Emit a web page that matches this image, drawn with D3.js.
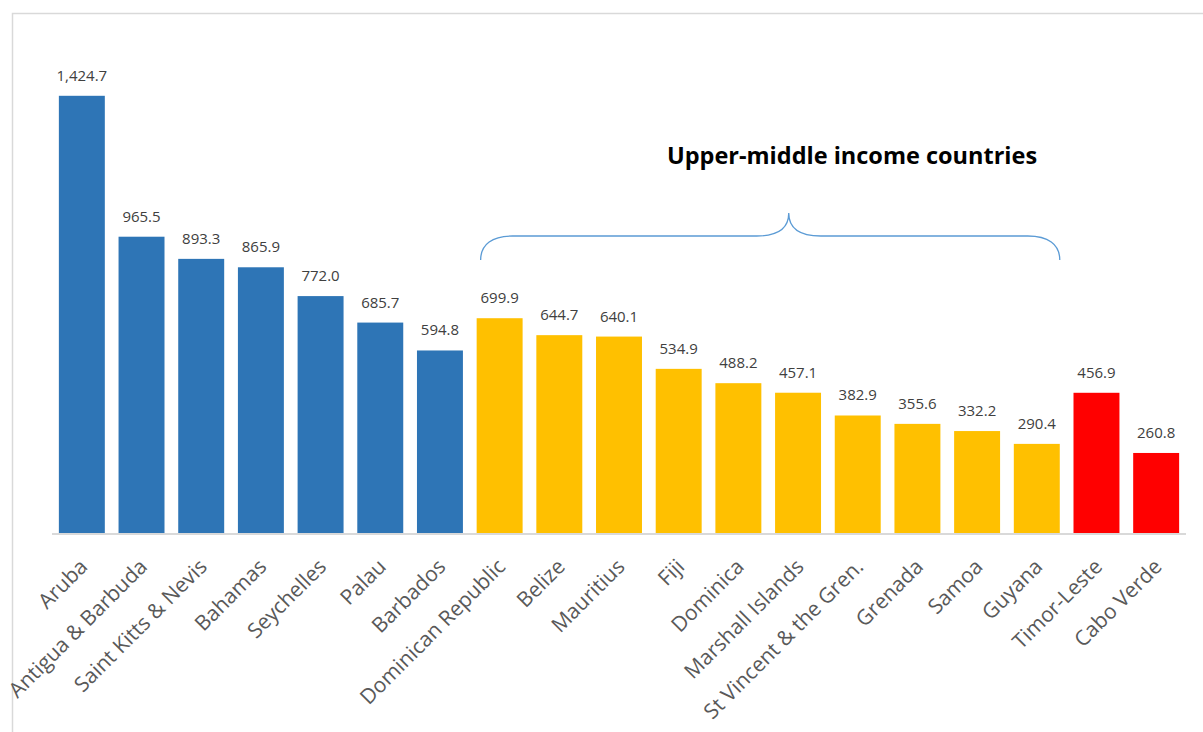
<!DOCTYPE html>
<html>
<head>
<meta charset="utf-8">
<script src="https://cdn.jsdelivr.net/npm/d3@7/dist/d3.min.js"></script>
<style>
  html, body { margin: 0; padding: 0; background: #fff; }
  svg { display: block; }
</style>
</head>
<body>
<svg id="chart" width="1203" height="732"></svg>
<script>
// Countries, in plotted order
const countries = [
  "Aruba", "Antigua & Barbuda", "Saint Kitts & Nevis", "Bahamas", "Seychelles",
  "Palau", "Barbados", "Dominican Republic", "Belize", "Mauritius", "Fiji",
  "Dominica", "Marshall Islands", "St Vincent & the Gren.", "Grenada", "Samoa",
  "Guyana", "Timor-Leste", "Cabo Verde"
];
// Value for each country
const values = [
  1424.7, 965.5, 893.3, 865.9, 772.0, 685.7, 594.8, 699.9, 644.7, 640.1, 534.9,
  488.2, 457.1, 382.9, 355.6, 332.2, 290.4, 456.9, 260.8
];
// Income group for each country
const groups = [
  "high", "high", "high", "high", "high", "high", "high",
  "upper", "upper", "upper", "upper", "upper", "upper", "upper", "upper", "upper", "upper",
  "lower", "lower"
];
const groupTitle = "Upper-middle income countries";

const data = countries.map((c, i) => ({ country: c, value: values[i], group: groups[i] }));

const svg = d3.select("#chart");
const W = 1203, H = 732;

// Outer chart frame
svg.append("rect")
  .attr("x", 12.5).attr("y", 13.5)
  .attr("width", W).attr("height", H)
  .attr("fill", "none")
  .attr("stroke", "#d9d9d9")
  .attr("stroke-width", 1.5);

const x = d3.scaleBand()
  .domain(countries)
  .range([52, 1186])
  .paddingInner(0.23)
  .paddingOuter(0.115);

const y = d3.scaleLinear()
  .domain([0, 1600])
  .range([533, 42]);

const color = d3.scaleOrdinal()
  .domain(["high", "upper", "lower"])
  .range(["#2e75b6", "#ffc000", "#ff0000"]);

// Bars
svg.append("g")
  .selectAll("rect")
  .data(data)
  .join("rect")
  .attr("x", d => x(d.country))
  .attr("y", d => y(d.value))
  .attr("width", x.bandwidth())
  .attr("height", d => y(0) - y(d.value))
  .attr("fill", d => color(d.group));

// Value labels
const fmt = d3.format(",.1f");
svg.append("g")
  .selectAll("text")
  .data(data)
  .join("text")
  .attr("x", d => x(d.country) + x.bandwidth() / 2)
  .attr("y", d => y(d.value) - 15)
  .attr("text-anchor", "middle")
  .attr("font-family", "'Open Sans', sans-serif")
  .attr("font-size", 15)
  .attr("fill", "#404040")
  .text(d => fmt(d.value));

// Category axis
const xAxis = svg.append("g")
  .attr("transform", `translate(0,${y(0)})`)
  .call(d3.axisBottom(x).tickSize(0).tickSizeOuter(0));
xAxis.select(".domain")
  .attr("stroke", "#d9d9d9")
  .attr("stroke-width", 2)
  .attr("d", "M52,1H1186");
xAxis.selectAll(".tick text")
  .attr("font-family", "'Open Sans', sans-serif")
  .attr("font-size", 21)
  .attr("fill", "#595959")
  .attr("text-anchor", "end")
  .attr("y", 0)
  .attr("dy", 0)
  .attr("transform", "translate(7,35) rotate(-45)");

// Brace over the upper-middle income group
const upper = data.filter(d => d.group === "upper");
const bx0 = x(upper[0].country) + 4;
const bx1 = x(upper[upper.length - 1].country) + x.bandwidth();
const bmid = bx0 + (bx1 - bx0) * 0.532;
const yEnd = 260, yBar = 236, yTip = 213;
const r = 32;
const brace = d3.path();
brace.moveTo(bx0, yEnd);
brace.bezierCurveTo(bx0, yEnd - 16, bx0 + 12, yBar, bx0 + r, yBar);
brace.lineTo(bmid - r, yBar);
brace.bezierCurveTo(bmid - 12, yBar, bmid, yBar - 7, bmid, yTip);
brace.bezierCurveTo(bmid, yBar - 7, bmid + 12, yBar, bmid + r, yBar);
brace.lineTo(bx1 - r, yBar);
brace.bezierCurveTo(bx1 - 12, yBar, bx1, yEnd - 16, bx1, yEnd);
svg.append("path")
  .attr("d", brace.toString())
  .attr("fill", "none")
  .attr("stroke", "#5b9bd5")
  .attr("stroke-width", 1.3);

svg.append("text")
  .attr("x", 852)
  .attr("y", 164)
  .attr("text-anchor", "middle")
  .attr("font-family", "'Open Sans', sans-serif")
  .attr("font-weight", "bold")
  .attr("font-size", 23.5)
  .attr("fill", "#000")
  .text(groupTitle);
</script>
</body>
</html>
